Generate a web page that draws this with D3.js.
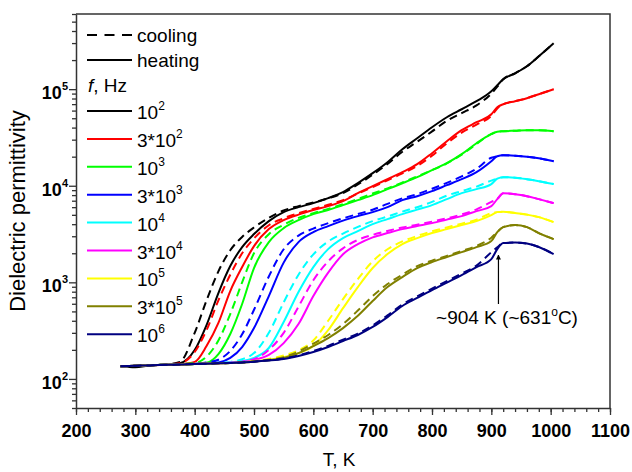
<!DOCTYPE html>
<html>
<head>
<meta charset="utf-8">
<script src="https://cdn.jsdelivr.net/npm/d3@7"></script>
<style>
body { margin: 0; background: #fff; }
text { font-family: "Liberation Sans", Arial, sans-serif; }
</style>
</head>
<body>
<div id="graph"></div>
<script>
// temperature grid (K) shared by all curves
var T = [275, 300, 325, 350, 375, 400, 420, 440, 460, 480, 500, 525, 550, 575, 600, 625, 650, 675, 700, 725, 750, 775, 800, 825, 850, 875, 900, 910, 920, 940, 960, 980, 1005];

// heating (h) and cooling (c) permittivity, one pair per frequency
var h100 = [135, 132, 138, 140, 145, 199, 361, 775, 1475, 2317, 3160, 4306, 5330, 6007, 6610, 7445, 8590, 10650, 13490, 17530, 23890, 31040, 40340, 51180, 61950, 75000, 95000, 109700, 126500, 146000, 172500, 218700, 298500];
var c100 = [135, 137, 139, 141, 150, 300, 650, 1300, 2150, 2950, 3700, 4650, 5550, 6150, 6700, 7400, 8400, 10300, 13000, 16800, 22500, 28500, 36500, 47000, 56500, 68000, 90000, 106000, 126500, 146000, 172500, 218700, 298500];
var h300 = [135, 137, 138, 140, 142, 150, 219, 380, 813, 1440, 2371, 3557, 4400, 5025, 5600, 6150, 6935, 8377, 9900, 11700, 13830, 16720, 21740, 28900, 37590, 45470, 55000, 65000, 69800, 75000, 80600, 88600, 99800];
var c300 = [135, 137, 139, 141, 145, 190, 320, 650, 1200, 2000, 2850, 3900, 4600, 5200, 5750, 6350, 7100, 8300, 9700, 11400, 13400, 16000, 20500, 27500, 35500, 43000, 53000, 63000, 69800, 75000, 80600, 88600, 99800];
var h1k = [135, 137, 138, 140, 141, 143, 147, 181, 292, 597, 1406, 2612, 3640, 4400, 5085, 5600, 6300, 7100, 8000, 9220, 10600, 12270, 14500, 17130, 21240, 27570, 34170, 36240, 36700, 37150, 37600, 37600, 36700];
var c1k = [135, 137, 139, 141, 143, 146, 170, 250, 470, 1000, 2000, 3150, 3950, 4650, 5200, 5750, 6450, 7300, 8300, 9400, 10800, 12500, 14500, 17000, 21000, 27000, 34500, 36240, 36700, 37150, 37600, 37600, 36700];
var h3k = [135, 137, 138, 140, 141, 143, 145, 148, 165, 214, 336, 721, 1600, 2611, 3311, 3821, 4355, 4850, 5333, 6007, 7101, 7800, 8786, 10135, 11690, 13830, 17950, 20230, 20710, 20470, 19990, 19280, 17950];
var c3k = [135, 137, 138, 140, 142, 144, 148, 158, 195, 290, 520, 1150, 2200, 3050, 3600, 4100, 4600, 5100, 5650, 6500, 7400, 8200, 9300, 10700, 12500, 15000, 19500, 20230, 20710, 20470, 19990, 19280, 17950];
var h10k = [135, 137, 138, 140, 141, 143, 144, 146, 148, 153, 165, 209, 388, 794, 1439, 2208, 2871, 3390, 4009, 4516, 5085, 5657, 6303, 7264, 8377, 9222, 10393, 11840, 12270, 12130, 11700, 11160, 10400];
var c10k = [135, 137, 138, 140, 141, 143, 144, 147, 150, 160, 185, 300, 620, 1200, 1950, 2650, 3200, 3750, 4300, 4800, 5400, 6000, 6800, 7900, 8800, 9800, 11300, 11840, 12270, 12130, 11700, 11160, 10400];
var h30k = [135, 137, 138, 140, 141, 143, 144, 145, 147, 150, 157, 177, 235, 370, 720, 1260, 1950, 2480, 2920, 3236, 3557, 3821, 4103, 4457, 4850, 5459, 6148, 7265, 8377, 8185, 7800, 7265, 6607];
var c30k = [135, 137, 138, 140, 141, 143, 144, 145, 147, 151, 160, 200, 300, 560, 1050, 1650, 2250, 2750, 3100, 3400, 3700, 3950, 4250, 4600, 5050, 5700, 6800, 7300, 8377, 8185, 7800, 7265, 6607];
var h100k = [135, 137, 138, 140, 141, 143, 144, 145, 146, 148, 152, 158, 168, 185, 220, 320, 540, 893, 1406, 1963, 2489, 2871, 3236, 3557, 3917, 4306, 4966, 5333, 5396, 5209, 5025, 4736, 4207];
var c100k = [135, 137, 138, 140, 141, 143, 144, 145, 146, 148, 153, 161, 175, 198, 250, 400, 670, 1080, 1650, 2200, 2650, 3020, 3380, 3700, 4050, 4450, 5200, 5333, 5396, 5209, 5025, 4736, 4207];
var h300k = [135, 137, 138, 140, 141, 143, 144, 145, 146, 148, 151, 156, 165, 185, 219, 265, 336, 450, 641, 893, 1134, 1406, 1622, 1827, 2057, 2317, 2673, 3311, 3732, 3917, 3732, 3236, 2804];
var c300k = [135, 137, 138, 140, 141, 143, 144, 145, 146, 148, 152, 158, 168, 192, 232, 285, 370, 510, 720, 960, 1200, 1470, 1680, 1880, 2110, 2380, 2900, 3311, 3732, 3917, 3732, 3236, 2804];
var h1M = [135, 137, 138, 140, 141, 143, 144, 145, 146, 148, 151, 155, 161, 173, 190, 214, 247, 285, 345, 437, 569, 689, 832, 995, 1190, 1440, 1740, 2210, 2550, 2580, 2520, 2320, 1960];
var c1M = [135, 137, 138, 140, 141, 143, 144, 145, 146, 148, 151, 156, 163, 176, 195, 220, 255, 295, 358, 455, 590, 715, 860, 1030, 1230, 1490, 2050, 2300, 2550, 2580, 2520, 2320, 1960];

var freqBase = ["10", "3*10", "10", "3*10", "10", "3*10", "10", "3*10", "10"];
var freqExp = ["2", "2", "3", "3", "4", "4", "5", "5", "6"];
var colors = ["#000000", "#ff0000", "#00ff00", "#0000ff", "#00ffff", "#ff00ff", "#ffff00", "#808000", "#000080"];
var xTicks = [200, 300, 400, 500, 600, 700, 800, 900, 1000, 1100];
var yTicks = [100, 1000, 10000, 100000];
var yExp = ["2", "3", "4", "5"];

var heat = [h100, h300, h1k, h3k, h10k, h30k, h100k, h300k, h1M];
var cool = [c100, c300, c1k, c3k, c10k, c30k, c100k, c300k, c1M];

var w = 632, h = 472;
var mLeft = 76, mRight = 610, mTop = 14, mBottom = 408;

var svg = d3.select("#graph")
	.append("svg")
	.attr("width", w)
	.attr("height", h);

var x = d3.scaleLinear().domain([200, 1100]).range([mLeft, mRight]);
var y = d3.scaleLog().domain([50, 6e5]).range([mBottom, mTop]);

// curves
var line = d3.line()
	.x(function(d) { return x(d[0]); })
	.y(function(d) { return y(d[1]); })
	.curve(d3.curveMonotoneX);

for (var i = 0; i < heat.length; i++) {
	svg.append("path")
		.attr("d", line(T.map(function(t, k) { return [t, heat[i][k]]; })))
		.attr("fill", "none")
		.attr("stroke", colors[i])
		.attr("stroke-width", 2);
	svg.append("path")
		.attr("d", line(T.map(function(t, k) { return [t, cool[i][k]]; })))
		.attr("fill", "none")
		.attr("stroke", colors[i])
		.attr("stroke-width", 2)
		.attr("stroke-dasharray", "8,5");
}

// x axis
var xMinor = d3.range(200, 1101, 20);
svg.append("g")
	.attr("transform", "translate(0," + mBottom + ")")
	.call(d3.axisBottom(x).tickValues(xMinor).tickSize(4).tickSizeOuter(0).tickFormat(""))
	.call(function(g) { g.select(".domain").remove(); });
var xa = svg.append("g")
	.attr("transform", "translate(0," + mBottom + ")")
	.call(d3.axisBottom(x).tickValues(xTicks).tickSize(7).tickSizeOuter(0).tickPadding(9).tickFormat(d3.format("d")));
xa.selectAll("text")
	.attr("font-family", "Liberation Sans, Arial, sans-serif")
	.attr("font-size", 18)
	.attr("font-weight", "bold")
	.attr("fill", "#000");

// y axis
var yMinor = [];
[10, 100, 1000, 10000, 100000].forEach(function(d) {
	for (var m = 2; m <= 9; m++) {
		if (d * m >= 50 && d * m <= 6e5) yMinor.push(d * m);
	}
});
svg.append("g")
	.attr("transform", "translate(" + mLeft + ",0)")
	.call(d3.axisLeft(y).tickValues(yMinor).tickSize(4).tickSizeOuter(0).tickFormat(""))
	.call(function(g) { g.select(".domain").remove(); });
svg.append("g")
	.attr("transform", "translate(" + mLeft + ",0)")
	.call(d3.axisLeft(y).tickValues(yTicks).tickSize(7).tickSizeOuter(0).tickFormat(""));

var yl = svg.selectAll(".ylab")
	.data(yTicks)
	.enter()
	.append("text")
	.attr("x", mLeft - 8)
	.attr("y", function(d) { return y(d) + 10; })
	.attr("text-anchor", "end")
	.attr("font-size", 18)
	.attr("font-weight", "bold");
yl.append("tspan").text("10");
yl.append("tspan")
	.attr("font-size", 11)
	.attr("dy", -9)
	.text(function(d, k) { return yExp[k]; });

svg.selectAll(".domain").attr("stroke", "#333").attr("stroke-width", 1.5);
svg.selectAll(".tick line").attr("stroke", "#333").attr("stroke-width", 1.3);

// frame top and right
svg.append("path")
	.attr("d", "M" + mLeft + "," + mTop + "H" + mRight + "V" + mBottom)
	.attr("fill", "none")
	.attr("stroke", "#333")
	.attr("stroke-width", 1.5);

// titles
svg.append("text")
	.text("T, K")
	.attr("x", (mLeft + mRight) / 2 - 4)
	.attr("y", 466)
	.attr("text-anchor", "middle")
	.attr("font-size", 19);

svg.append("text")
	.text("Dielectric permittivity")
	.attr("transform", "translate(25," + ((mTop + mBottom) / 2) + ") rotate(-90)")
	.attr("text-anchor", "middle")
	.attr("font-size", 22);

// legend
var lx0 = 87, lx1 = 132, tx = 137;
svg.append("line").attr("x1", lx0).attr("x2", lx1).attr("y1", 35).attr("y2", 35)
	.attr("stroke", "#000").attr("stroke-width", 2).attr("stroke-dasharray", "10,7.5");
svg.append("text").text("cooling").attr("x", tx).attr("y", 42).attr("font-size", 19);
svg.append("line").attr("x1", lx0).attr("x2", lx1).attr("y1", 60).attr("y2", 60)
	.attr("stroke", "#000").attr("stroke-width", 2);
svg.append("text").text("heating").attr("x", tx).attr("y", 67).attr("font-size", 19);

var fz = svg.append("text").attr("x", 88).attr("y", 92).attr("font-size", 19);
fz.append("tspan").attr("font-style", "italic").text("f");
fz.append("tspan").text(", Hz");

for (var j = 0; j < freqBase.length; j++) {
	var ly = 111 + j * 27.9;
	svg.append("line").attr("x1", lx0).attr("x2", lx1).attr("y1", ly).attr("y2", ly)
		.attr("stroke", colors[j]).attr("stroke-width", 2);
	var lt = svg.append("text").attr("x", tx).attr("y", ly + 8).attr("font-size", 19);
	lt.append("tspan").text(freqBase[j]);
	lt.append("tspan").attr("font-size", 12).attr("dy", -9).text(freqExp[j]);
}

// annotation
svg.append("defs").append("marker")
	.attr("id", "arr")
	.attr("viewBox", "0 0 10 10")
	.attr("refX", 9).attr("refY", 5)
	.attr("markerWidth", 5).attr("markerHeight", 6)
	.attr("markerUnits", "userSpaceOnUse")
	.attr("orient", "auto")
	.append("path")
	.attr("d", "M0,0L10,5L0,10Z")
	.attr("fill", "#000");

svg.append("line")
	.attr("x1", x(912)).attr("x2", x(912))
	.attr("y1", 304).attr("y2", 255)
	.attr("stroke", "#000")
	.attr("stroke-width", 1.2)
	.attr("marker-end", "url(#arr)");

var an = svg.append("text")
	.attr("x", 507)
	.attr("y", 324)
	.attr("text-anchor", "middle")
	.attr("font-size", 19);
an.append("tspan").text("~904 K (~631");
an.append("tspan").attr("font-size", 12).attr("dy", -8).text("o");
an.append("tspan").attr("dy", 8).text("C)");
</script>
</body>
</html>
